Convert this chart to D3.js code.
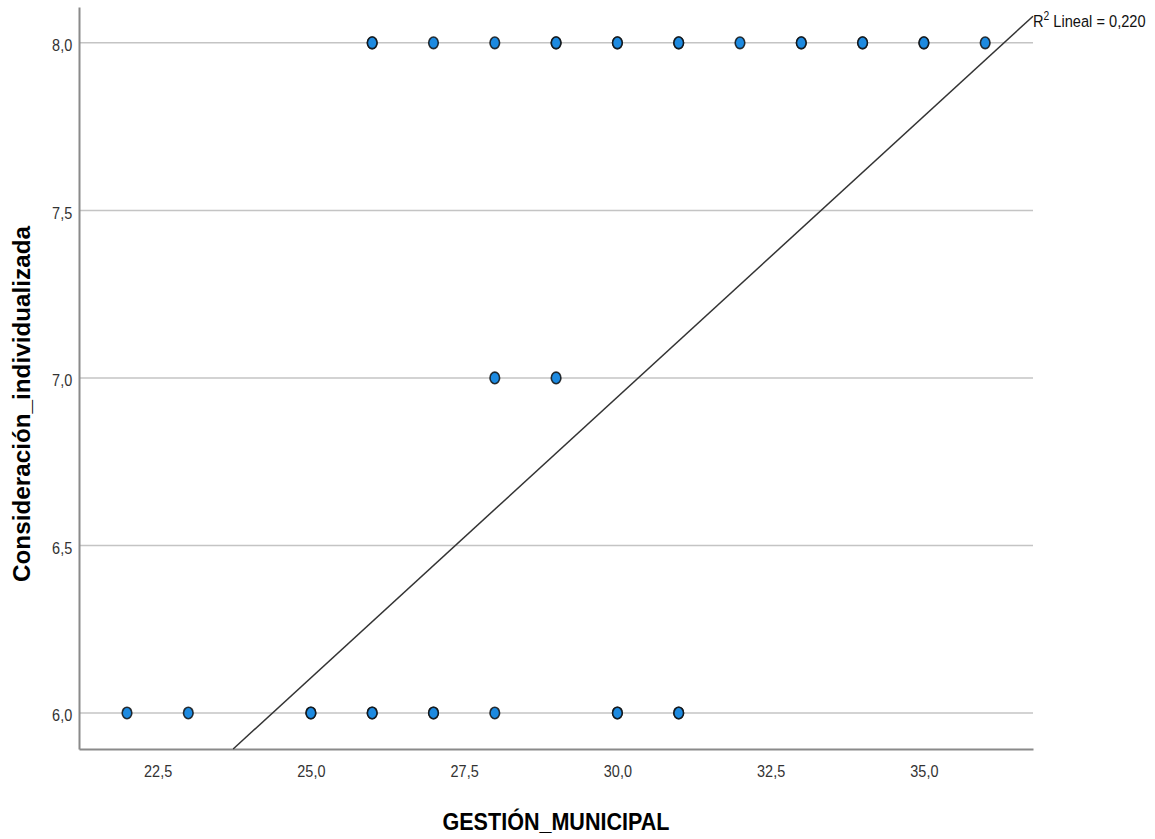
<!DOCTYPE html>
<html>
<head>
<meta charset="utf-8">
<script src="https://cdn.jsdelivr.net/npm/d3@7"></script>
<style>
  body { margin: 0; background: #fff; }
  svg { display: block; font-family: "Liberation Sans", Arial, sans-serif; }
</style>
</head>
<body>
<div id="chart"></div>
<script>
// observations (repeated entries = overlapping cases)
const gestion =        [26, 26, 27, 28, 29, 29, 30, 30, 31, 31, 32, 33, 33, 34, 34, 35, 35, 36,
                        28, 29,
                        22, 23, 25, 25, 26, 26, 27, 27, 28, 30, 30, 31, 31];
const consideracion =  [8, 8, 8, 8, 8, 8, 8, 8, 8, 8, 8, 8, 8, 8, 8, 8, 8, 8,
                        7, 7,
                        6, 6, 6, 6, 6, 6, 6, 6, 6, 6, 6, 6, 6];

const xTicks = [22.5, 25, 27.5, 30, 32.5, 35];
const yTicks = [6, 6.5, 7, 7.5, 8];

// linear fit
const fitIntercept = 1.915;
const fitSlope = 0.1676;
const fitLabel = 'Lineal = 0,220';

const width = 1155, height = 839;
const mLeft = 79, mRight = 1033, mTop = 7, mBottom = 749;

const locale = d3.formatLocale({ decimal: ',', thousands: '.', grouping: [3], currency: ['', ''] });
const fmt = locale.format('.1f');

const svg = d3.select('#chart').append('svg')
  .attr('width', width)
  .attr('height', height);

const x = d3.scaleLinear().domain([21.217, 36.78]).range([mLeft, mRight]);
const y = d3.scaleLinear().domain([5.8925, 8.107]).range([mBottom, mTop]);

// horizontal grid lines
svg.append('g')
  .selectAll('line')
  .data(yTicks)
  .enter()
  .append('line')
  .attr('x1', mLeft)
  .attr('x2', mRight)
  .attr('y1', d => y(d))
  .attr('y2', d => y(d))
  .attr('stroke', '#c4c4c4')
  .attr('stroke-width', 1.5);

// y axis
const yAxis = svg.append('g')
  .attr('transform', `translate(${mLeft},0)`)
  .call(d3.axisLeft(y).tickValues(yTicks).tickFormat(fmt).tickSize(0).tickPadding(8));
yAxis.select('.domain').attr('stroke', '#8a8a8a').attr('stroke-width', 2);
yAxis.selectAll('text')
  .attr('font-size', 17)
  .attr('fill', '#333')
  .attr('dy', '0.45em')
  .attr('transform', 'scale(0.85,1)');

// x axis
const xAxis = svg.append('g')
  .attr('transform', `translate(0,${mBottom})`)
  .call(d3.axisBottom(x).tickValues(xTicks).tickFormat(fmt).tickSize(0).tickPadding(16));
xAxis.select('.domain').attr('stroke', '#8a8a8a').attr('stroke-width', 2);
xAxis.selectAll('text')
  .attr('font-size', 17)
  .attr('fill', '#333')
  .attr('transform', 'scale(0.85,1)');

// fit line, clipped to the plot area
const xStart = (y.domain()[0] - fitIntercept) / fitSlope;
const xEnd = x.domain()[1];
const fitPts = [xStart, xEnd].map(v => [v, fitIntercept + fitSlope * v]);
svg.append('path')
  .attr('d', d3.line().x(d => x(d[0])).y(d => y(d[1]))(fitPts))
  .attr('fill', 'none')
  .attr('stroke', '#333')
  .attr('stroke-width', 1.5);

const lbl = svg.append('text')
  .attr('transform', `translate(${x(xEnd)},${y(fitPts[1][1]) + 11}) scale(0.86,1)`)
  .attr('font-size', 17)
  .attr('fill', '#111');
lbl.append('tspan').text('R');
lbl.append('tspan').attr('font-size', 12).attr('dy', -7).text('2');
lbl.append('tspan').attr('dy', 7).text(' ' + fitLabel);

// points
svg.append('g')
  .selectAll('ellipse')
  .data(gestion.map((g, i) => [g, consideracion[i]]))
  .enter()
  .append('ellipse')
  .attr('cx', d => x(d[0]))
  .attr('cy', d => y(d[1]))
  .attr('rx', 4.8)
  .attr('ry', 5.8)
  .attr('fill', '#1d8ae0')
  .attr('stroke', '#111')
  .attr('stroke-width', 1.6)
  .attr('stroke-opacity', 0.85);

// axis titles
svg.append('text')
  .attr('x', (mLeft + mRight) / 2)
  .attr('y', 830)
  .attr('text-anchor', 'middle')
  .attr('font-size', 24)
  .attr('font-weight', 'bold')
  .attr('textLength', 227)
  .attr('lengthAdjust', 'spacingAndGlyphs')
  .text('GESTIÓN_MUNICIPAL');

svg.append('text')
  .attr('transform', `translate(30,${(mTop + mBottom) / 2 + 26}) rotate(-90)`)
  .attr('text-anchor', 'middle')
  .attr('font-size', 24)
  .attr('font-weight', 'bold')
  .attr('textLength', 356)
  .attr('lengthAdjust', 'spacingAndGlyphs')
  .text('Consideración_individualizada');
</script>
</body>
</html>
